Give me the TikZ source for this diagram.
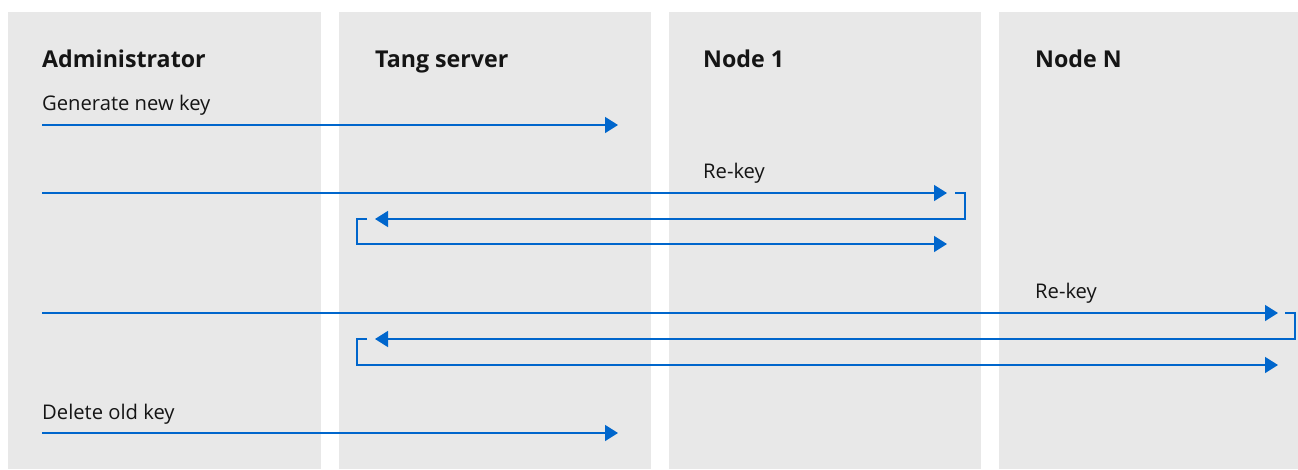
\documentclass[tikz,border=0pt]{standalone}
\usepackage{fontspec}
\setmainfont{Open Sans}
\usetikzlibrary{arrows.meta}
\definecolor{lanegray}{HTML}{E8E8E8}
\definecolor{arrblue}{HTML}{0066CC}
\definecolor{ink}{HTML}{151515}
\begin{document}
\begin{tikzpicture}[x=1pt,y=-1pt,
  lanebox/.style={fill=lanegray,draw=none},
  head/.style={anchor=base west,font=\bfseries\fontsize{23.2}{27}\selectfont,text=ink,inner sep=0},
  lbl/.style={anchor=base west,font=\fontsize{20.2}{24}\selectfont,text=ink,inner sep=0},
  msg/.style={draw=arrblue,line width=1.5pt,-{Triangle[length=13pt,width=16pt]}},
  brk/.style={draw=arrblue,line width=1.5pt}]
\useasboundingbox (0,0) rectangle (1298,469);
% lanes
\path[lanebox] (8,12) rectangle (321,469);
\path[lanebox] (339,12) rectangle (651,469);
\path[lanebox] (669,12) rectangle (981,469);
\path[lanebox] (999,12) rectangle (1298,469);
% headings
\node[head] (hadm) at (42,67) {Administrator};
\node[head] (htang) at (375,67) {Tang server};
\node[head] (hn1) at (703,67) {Node 1};
\node[head] (hnn) at (1035,67) {Node N};
% labels
\node[lbl] (lgen) at (42,110) {Generate new key};
\node[lbl] (lrk1) at (703,178) {Re-key};
\node[lbl] (lrk2) at (1035,298) {Re-key};
\node[lbl] (ldel) at (42,419) {Delete old key};
% coordinates
\coordinate (g0) at (42,125); \coordinate (g1) at (618,125);
\coordinate (r0) at (42,193); \coordinate (r1) at (947,193);
\coordinate (r2) at (955,193); \coordinate (r3) at (965,219); \coordinate (r4) at (375,219);
\coordinate (r5) at (367,219); \coordinate (r6) at (357,244); \coordinate (r7) at (947,244);
\coordinate (s0) at (42,313); \coordinate (s1) at (1278,313);
\coordinate (s2) at (1285,313); \coordinate (s3) at (1295,339); \coordinate (s4) at (375,339);
\coordinate (s5) at (367,339); \coordinate (s6) at (357,365); \coordinate (s7) at (1278,365);
\coordinate (d0) at (42,433); \coordinate (d1) at (618,433);
% arrows
\draw[msg] (g0) -- (g1);
\draw[msg] (r0) -- (r1);
\draw[msg] (r2) -| (r3) -- (r4);
\draw[msg] (r5) -| (r6) -- (r7);
\draw[msg] (s0) -- (s1);
\draw[msg] (s2) -| (s3) -- (s4);
\draw[msg] (s5) -| (s6) -- (s7);
\draw[msg] (d0) -- (d1);
\end{tikzpicture}
\end{document}
